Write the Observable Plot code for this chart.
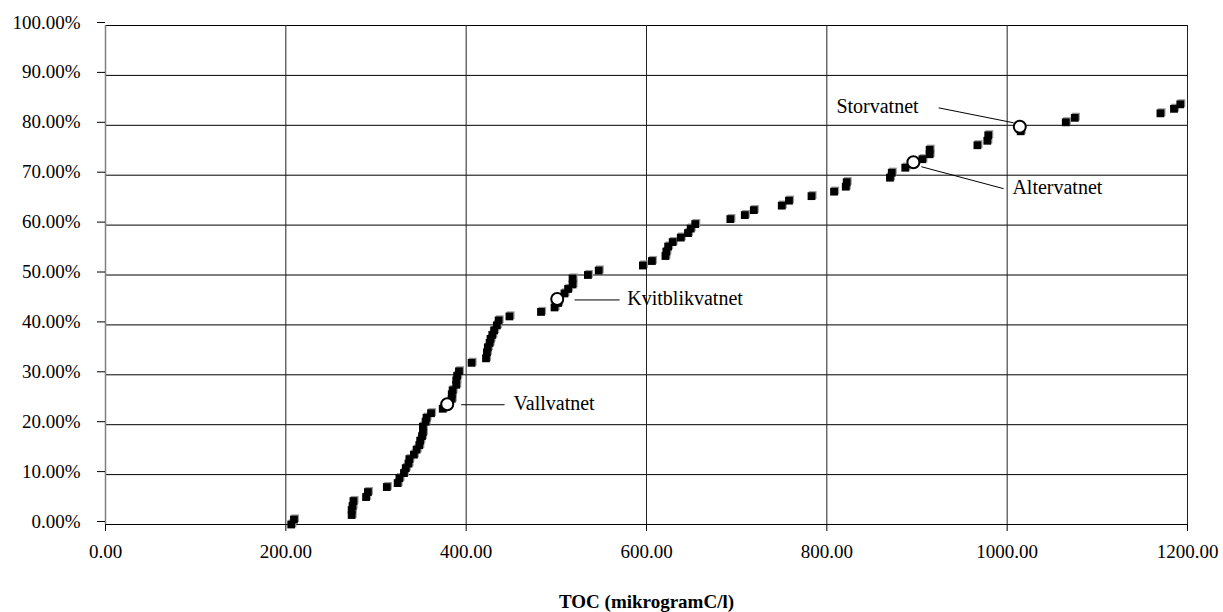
<!DOCTYPE html>
<html>
<head>
<meta charset="utf-8">
<script src="https://cdn.jsdelivr.net/npm/d3@7"></script>
<script src="https://cdn.jsdelivr.net/npm/@observablehq/plot@0.6"></script>
<style>
  html, body { margin: 0; padding: 0; background: #fff; }
  #chart { width: 1223px; height: 612px; }
</style>
</head>
<body>
<div id="chart"></div>
<script>
// TOC values (mikrogramC/l) and cumulative percentage for each lake
const toc = [206,209,273,273,274,275,289,291,312,324,326,331,333,336,337,342,345,348,349,351,352,352,355,356,361,374,378,384,384,385,389,389,390,392,406,422,423,424,426,427,429,431,434,436,448,483,498,502,509,513,518,518,535,547,596,606,621,622,624,629,638,646,649,654,693,709,719,750,758,783,808,821,822,870,872,887,896,906,914,914,967,978,979,1015,1065,1075,1170,1185,1192];
const pct = [0,1.0,1.9,2.9,3.7,4.7,5.5,6.5,7.5,8.3,9.3,10.3,11.3,12.2,13.1,14.0,15.0,15.9,16.8,17.7,18.5,19.6,20.6,21.4,22.3,23.2,24.1,25.2,26.1,26.9,28.0,28.9,29.8,30.7,32.4,33.3,34.5,35.5,36.4,37.2,38.0,38.9,39.9,40.9,41.7,42.6,43.5,44.4,46.3,47.2,48.1,49.3,50.0,50.9,51.9,52.8,53.8,54.7,55.7,56.6,57.5,58.4,59.3,60.2,61.2,62.0,63.0,63.9,64.9,65.8,66.7,67.7,68.6,69.5,70.5,71.5,72.4,73.2,74.2,75.1,76.0,76.9,78.0,78.8,80.6,81.5,82.4,83.3,84.2];

// Highlighted lakes
const lakes = ["Vallvatnet","Kvitblikvatnet","Altervatnet","Storvatnet"];
const lakeToc = [379, 501, 896, 1014];
const lakePct = [24.1, 45.2, 72.6, 79.7];

// Label anchors (data coordinates) for the leader lines and texts
const labelLineX1 = [394.5, 520.2, 904.8, 924.0];
const labelLineY1 = [24.0, 45.0, 71.7, 83.5];
const labelLineX2 = [442.6, 570.2, 996.1, 1007.2];
const labelLineY2 = [24.0, 45.0, 67.3, 80.5];
const labelTextX = [452.6, 578.7, 1005.8, 901.8];
const labelTextY = [24.0, 45.0, 67.3, 83.5];
const labelAnchor = ["start","start","start","end"];

// Ticks
const xTicks = [0,200,400,600,800,1000,1200];
const yTicks = [0,10,20,30,40,50,60,70,80,90,100];
const xTitle = "TOC (mikrogramC/l)";

const points = toc.map((v, i) => ({x: v, y: pct[i]}));
const lakeData = lakes.map((n, i) => ({
  name: n, x: lakeToc[i], y: lakePct[i],
  lx1: labelLineX1[i], ly1: labelLineY1[i], lx2: labelLineX2[i], ly2: labelLineY2[i],
  tx: labelTextX[i], ty: labelTextY[i], anchor: labelAnchor[i]
}));

const font = "'Liberation Serif', 'Times New Roman', serif";

const chart = Plot.plot({
  width: 1223,
  height: 612,
  marginLeft: 105,
  marginRight: 36,
  marginTop: 25,
  marginBottom: 88,
  style: { fontFamily: font, fontSize: "19px", background: "#fff", color: "#000" },
  x: { domain: [0, 1200] },
  y: { domain: [0, 100] },
  marks: [
    Plot.ruleY(yTicks, { stroke: "#000", strokeWidth: 1 }),
    Plot.ruleX(xTicks.filter(d => d > 0), { y1: 0, y2: 100, stroke: "#222", strokeWidth: 1 }),
    Plot.ruleX([0], { y1: 0, y2: 100, stroke: "#808080", strokeWidth: 1.5 }),
    Plot.axisY({ ticks: yTicks, tickSize: 8, tickPadding: 17, tickFormat: d => d.toFixed(2) + "%", dy: -3, fontSize: 19, label: null, stroke: "#000" }),
    Plot.axisX({ ticks: xTicks, tickSize: 7, tickPadding: 13, tickFormat: d => d.toFixed(2), fontSize: 19, label: null, stroke: "#000" }),
    Plot.text([xTitle], { frameAnchor: "bottom", dy: 77, text: d => d, fontWeight: "bold", fontSize: 19, lineAnchor: "middle" }),
    // square markers with light shadow
    Plot.dot(points, { x: "x", y: "y", symbol: "square", r: 4.4, fill: "#999", dx: 1.2, dy: -1.2 }),
    Plot.dot(points, { x: "x", y: "y", symbol: "square", r: 4.4, fill: "#000" }),
    // leader lines
    Plot.link(lakeData, { x1: "lx1", y1: "ly1", x2: "lx2", y2: "ly2", stroke: "#000", strokeWidth: 1 }),
    // highlighted lakes
    Plot.dot(lakeData, { x: "x", y: "y", r: 6, fill: "#fff", stroke: "#000", strokeWidth: 2 }),
    Plot.text(lakeData.filter(d => d.anchor === "start"), { x: "tx", y: "ty", text: "name", textAnchor: "start", fontSize: 20, lineAnchor: "middle", dy: -1 }),
    Plot.text(lakeData.filter(d => d.anchor === "end"), { x: "tx", y: "ty", text: "name", textAnchor: "end", fontSize: 20, lineAnchor: "middle", dy: -1 })
  ]
});
document.getElementById("chart").appendChild(chart);
</script>
</body>
</html>
